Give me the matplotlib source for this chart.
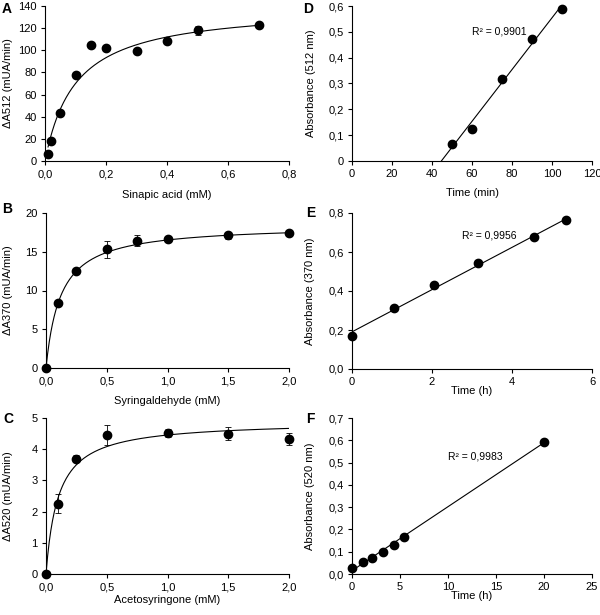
import numpy as np
import matplotlib
matplotlib.use("Agg")
import matplotlib.pyplot as plt
from matplotlib.ticker import FuncFormatter

plt.rcParams['font.family'] = ['Liberation Sans', 'DejaVu Sans']
plt.rcParams['font.size'] = 8

# A - sinapic acid kinetics
a_x = [0.01, 0.02, 0.05, 0.1, 0.15, 0.2, 0.3, 0.4, 0.5, 0.7]
a_y = [6.5, 18, 43, 78, 105, 102, 99, 108, 118, 122.5]
a_err = [0, 0, 0, 0, 0, 0, 0, 0, 4, 0]
a_vmax, a_km = 140, 0.1

# B - syringaldehyde kinetics
b_x = [0, 0.1, 0.25, 0.5, 0.75, 1.0, 1.5, 2.0]
b_y = [0, 8.4, 12.5, 15.3, 16.4, 16.7, 17.1, 17.4]
b_err = [0, 0, 0, 1.1, 0.7, 0.2, 0.4, 0.2]
b_vmax, b_km = 18.5, 0.12

# C - acetosyringone kinetics
c_x = [0, 0.1, 0.25, 0.5, 1.0, 1.5, 2.0]
c_y = [0, 2.25, 3.7, 4.45, 4.52, 4.5, 4.33]
c_err = [0, 0.3, 0.12, 0.32, 0.13, 0.2, 0.2]
c_vmax, c_km = 4.9, 0.1

# D/E/F - absorbance over time
d_x = [50, 60, 75, 90, 105]
d_y = [0.067, 0.122, 0.316, 0.474, 0.59]
d_r2 = "R² = 0,9901"
e_x = [0, 1.05, 2.05, 3.15, 4.55, 5.35]
e_y = [0.17, 0.312, 0.43, 0.543, 0.675, 0.762]
e_r2 = "R² = 0,9956"
f_x = [0, 1.1, 2.1, 3.2, 4.4, 5.4, 20]
f_y = [0.025, 0.055, 0.072, 0.1, 0.132, 0.167, 0.593]
f_r2 = "R² = 0,9983"

W, H = 600, 615
fig = plt.figure(figsize=(6, 6.15), dpi=100)


def make_ax(l, t, r, b):
    return fig.add_axes([l / W, 1 - b / H, (r - l) / W, (b - t) / H])


def fmt(dec, plain_zero=False):
    def f(v, pos):
        if plain_zero and abs(v) < 1e-9:
            return "0"
        return ("%." + str(dec) + "f") % v
    return FuncFormatter(lambda v, p: f(v, p).replace(".", ","))


def style(ax, xlim, xticks, xdec, ylim, yticks, ydec, xlabel, ylabel, xl_y, yl_x, yzero=False):
    for s in ["top", "right"]:
        ax.spines[s].set_visible(False)
    for s in ["left", "bottom"]:
        ax.spines[s].set_linewidth(0.8)
    ax.set_xlim(xlim)
    ax.set_ylim(ylim)
    ax.set_xticks(xticks)
    ax.set_yticks(yticks)
    ax.xaxis.set_major_formatter(fmt(xdec))
    ax.yaxis.set_major_formatter(fmt(ydec, yzero))
    ax.tick_params(length=3, width=0.8, labelsize=8, pad=3)
    ax.set_xlabel(xlabel, fontsize=8)
    ax.set_ylabel(ylabel, fontsize=8)
    ax.xaxis.set_label_coords(0.5, xl_y)
    ax.yaxis.set_label_coords(yl_x, 0.5)


def kinetics(ax, x, y, err, vmax, km, xmax):
    xs = np.linspace(x[0], xmax, 300)
    ax.plot(xs, vmax * xs / (km + xs), color="black", lw=0.8)
    ax.errorbar(x, y, yerr=err, fmt="o", color="black", ms=6, ecolor="black",
                elinewidth=0.6, capsize=2, capthick=0.6, clip_on=False, zorder=3)


def linear(ax, x, y, r2, tx, ty, from_zero_y=False):
    k, c = np.polyfit(x, y, 1)
    x0 = -c / k if from_zero_y else min(x)
    xs = np.array([x0, max(x)])
    ax.plot(xs, k * xs + c, color="black", lw=0.8)
    ax.plot(x, y, "o", color="black", ms=6, clip_on=False, zorder=3)
    ax.text(tx, ty, r2, fontsize=7.5)


# A
ax = make_ax(45, 6, 289, 161)
kinetics(ax, a_x, a_y, a_err, a_vmax, a_km, 0.7)
style(ax, (0, 0.8), np.arange(0, 0.81, 0.2), 1, (0, 140), range(0, 141, 20), 0,
      "Sinapic acid (mM)", "ΔA512 (mUA/min)", -0.187, -0.131)

# B
ax = make_ax(46, 213, 289, 368)
kinetics(ax, b_x, b_y, b_err, b_vmax, b_km, 2.0)
style(ax, (0, 2), np.arange(0, 2.01, 0.5), 1, (0, 20), range(0, 21, 5), 0,
      "Syringaldehyde (mM)", "ΔA370 (mUA/min)", -0.18, -0.136)

# C
ax = make_ax(46, 418, 289, 574)
kinetics(ax, c_x, c_y, c_err, c_vmax, c_km, 2.0)
style(ax, (0, 2), np.arange(0, 2.01, 0.5), 1, (0, 5), range(0, 6), 0,
      "Acetosyringone (mM)", "ΔA520 (mUA/min)", -0.135, -0.136)

# D
ax = make_ax(352, 6, 592, 161)
linear(ax, d_x, d_y, d_r2, 60, 0.49, from_zero_y=True)
style(ax, (0, 120), range(0, 121, 20), 0, (0, 0.6), np.arange(0, 0.61, 0.1), 1,
      "Time (min)", "Absorbance (512 nm)", -0.174, -0.15, yzero=True)

# E
ax = make_ax(352, 213, 592, 369)
linear(ax, e_x, e_y, e_r2, 2.75, 0.67)
style(ax, (0, 6), range(0, 7, 2), 0, (0, 0.8), np.arange(0, 0.81, 0.2), 1,
      "Time (h)", "Absorbance (370 nm)", -0.106, -0.154)

# F
ax = make_ax(352, 418, 592, 574)
linear(ax, f_x, f_y, f_r2, 10, 0.515)
style(ax, (0, 25), range(0, 26, 5), 0, (0, 0.7), np.arange(0, 0.71, 0.1), 1,
      "Time (h)", "Absorbance (520 nm)", -0.11, -0.154)

# panel letters
for letter, px, py in [("A", 2, 2), ("B", 2, 202), ("C", 3, 412),
                       ("D", 303, 2), ("E", 306, 206), ("F", 306, 412)]:
    fig.text(px / W, 1 - py / H, letter, fontsize=10, fontweight="bold",
             ha="left", va="top")

fig.savefig("out.png", dpi=100)
